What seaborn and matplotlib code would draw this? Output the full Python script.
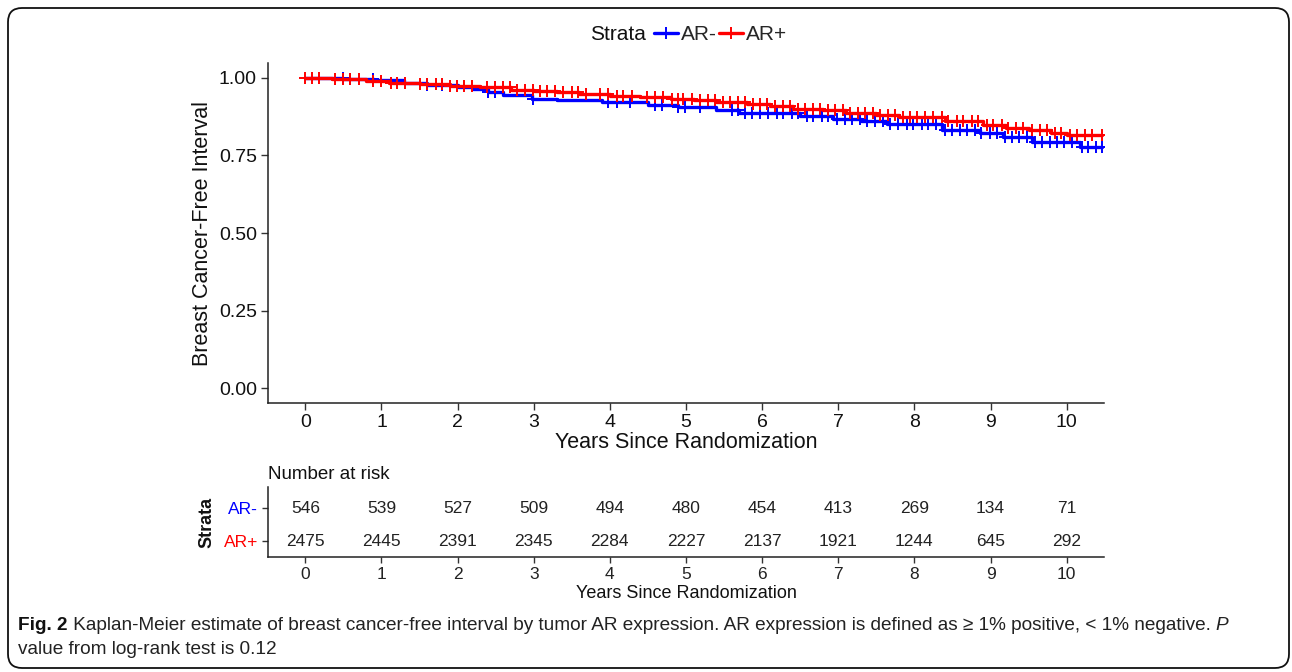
import numpy as np
import matplotlib
matplotlib.use("Agg")
import matplotlib.pyplot as plt
import seaborn as sns
from matplotlib.patches import FancyBboxPatch
from matplotlib.transforms import IdentityTransform
from matplotlib.lines import Line2D

# ---------------- data ----------------
groups = ["AR-", "AR+"]
group_colors = ["#0000FF", "#FF0000"]

arneg_time = [0, 0.5, 0.9, 1.3, 1.6, 2.0, 2.2, 2.4, 2.6, 2.98, 3.3, 3.9, 4.5, 4.9,
              5.4, 5.7, 6.5, 6.93, 7.3, 7.64, 8.36, 8.86, 9.16, 9.55, 10.17]
arneg_surv = [1.0, 0.997, 0.993, 0.982, 0.978, 0.970, 0.965, 0.955, 0.946, 0.932, 0.928,
              0.922, 0.914, 0.905, 0.898, 0.887, 0.876, 0.866, 0.860, 0.850, 0.833,
              0.823, 0.810, 0.794, 0.778]

arpos_time = [0, 0.35, 0.8, 1.1, 1.5, 1.9, 2.3, 2.7, 3.0, 3.3, 3.6, 4.0, 4.4, 4.8,
              5.1, 5.4, 5.8, 6.1, 6.4, 6.8, 7.1, 7.5, 7.8, 8.4, 8.9, 9.2, 9.5, 9.8, 10.0]
arpos_surv = [1.0, 0.995, 0.990, 0.985, 0.980, 0.975, 0.970, 0.962, 0.958, 0.953, 0.948,
              0.943, 0.938, 0.932, 0.928, 0.922, 0.916, 0.909, 0.901, 0.895, 0.887,
              0.880, 0.873, 0.860, 0.847, 0.839, 0.831, 0.822, 0.815]

arneg_censor = [0.49, 0.59, 0.89, 1.60, 1.80, 2.40, 2.49, 2.99, 3.98, 4.09, 4.27, 4.59,
                4.69, 4.90, 4.99, 5.18, 5.60, 5.68, 5.77, 5.87, 5.97, 6.08, 6.19, 6.27,
                6.39, 6.47, 6.59, 6.67, 6.78, 6.86, 6.98, 7.09, 7.18, 7.28, 7.38, 7.48,
                7.59, 7.68, 7.78, 7.90, 7.98, 8.10, 8.18, 8.29, 8.40, 8.49, 8.60, 8.69,
                8.79, 8.88, 8.99, 9.08, 9.19, 9.28, 9.38, 9.48, 9.58, 9.67, 9.78, 9.87,
                9.97, 10.07, 10.20, 10.28, 10.39, 10.47]
arpos_censor = [0.0, 0.09, 0.18, 0.39, 0.50, 0.59, 0.70, 0.89, 1.00, 1.12, 1.21, 1.31,
                1.50, 1.60, 1.71, 1.80, 1.90, 1.99, 2.09, 2.19, 2.39, 2.49, 2.60, 2.69,
                2.78, 2.89, 2.99, 3.08, 3.18, 3.28, 3.39, 3.50, 3.58, 3.69, 3.87, 3.98,
                4.09, 4.17, 4.29, 4.49, 4.59, 4.70, 4.82, 4.90, 4.96, 5.08, 5.18, 5.29,
                5.38, 5.49, 5.58, 5.68, 5.77, 5.88, 5.97, 6.07, 6.17, 6.27, 6.36, 6.47,
                6.56, 6.67, 6.76, 6.86, 6.96, 7.06, 7.15, 7.26, 7.35, 7.45, 7.55, 7.65,
                7.74, 7.85, 7.94, 8.04, 8.14, 8.24, 8.36, 8.44, 8.56, 8.64, 8.75, 8.83,
                8.95, 9.03, 9.15, 9.23, 9.34, 9.42, 9.54, 9.65, 9.74, 9.84, 9.93, 10.04,
                10.13, 10.24, 10.33, 10.46]

risk_times = [0, 1, 2, 3, 4, 5, 6, 7, 8, 9, 10]
arneg_risk = [546, 539, 527, 509, 494, 480, 454, 413, 269, 134, 71]
arpos_risk = [2475, 2445, 2391, 2345, 2284, 2227, 2137, 1921, 1244, 645, 292]

y_ticks = [0.00, 0.25, 0.50, 0.75, 1.00]
y_ticklabels = ["0.00", "0.25", "0.50", "0.75", "1.00"]

caption_bold = "Fig. 2"
caption_line1 = (" Kaplan-Meier estimate of breast cancer-free interval by tumor AR expression. "
                 "AR expression is defined as \u2265 1% positive, < 1% negative. ")
caption_italic = "P"
caption_line2 = "value from log-rank test is 0.12"

# ---------------- style ----------------
sns.set_theme(style="white")
plt.rcParams["font.family"] = ["Liberation Sans", "DejaVu Sans"]

W, H = 1292, 672
fig = plt.figure(figsize=(W / 100, H / 100), dpi=100)
fig.patch.set_facecolor("white")

def fx(px):
    return px / W

def fy(py):
    return 1 - py / H

ax = fig.add_axes([fx(268), fy(403), fx(1104) - fx(268), fy(63) - fy(403)])
axr = fig.add_axes([fx(268), fy(557), fx(1104) - fx(268), fy(487) - fy(557)])

MS, MEW = 8.5, 1.4
series = [(arneg_time, arneg_surv, arneg_censor), (arpos_time, arpos_surv, arpos_censor)]
for (t, s, c), g, col in zip(series, groups, group_colors):
    t_ext = list(t) + [max(max(c), t[-1])]
    s_ext = list(s) + [s[-1]]
    sns.lineplot(x=t_ext, y=s_ext, ax=ax, color=col, lw=2.4, drawstyle="steps-post",
                 estimator=None, sort=False)
    idx = np.searchsorted(np.array(t), np.array(c), side="right") - 1
    cy = np.array(s)[idx]
    ax.plot(c, cy, ls="", marker="+", color=col, markersize=MS, mew=MEW)

ax.set_xlim(-0.49, 10.49)
ax.set_ylim(-0.048, 1.048)
ax.set_xticks(risk_times)
ax.set_xticklabels([str(v) for v in risk_times])
ax.set_yticks(y_ticks)
ax.set_yticklabels(y_ticklabels)
for sp in ["top", "right"]:
    ax.spines[sp].set_visible(False)
for sp in ["left", "bottom"]:
    ax.spines[sp].set_color("#222222")
    ax.spines[sp].set_linewidth(1.1)
ax.tick_params(axis="both", which="both", bottom=True, left=True, length=5, width=1.0,
               color="#333333", labelsize=14, labelcolor="#111111", pad=3)
ax.set_xlabel("Years Since Randomization", fontsize=15.5, color="#111111", labelpad=1)
ax.set_ylabel("Breast Cancer-Free Interval", fontsize=15.5, color="#111111", labelpad=4)
ax.grid(False)

# legend at top
fig.text(fx(646), fy(35), "Strata", fontsize=15, ha="right", va="center", color="#111111")
handles = [Line2D([], [], color=c, lw=2.4, marker="+", markersize=MS, mew=MEW) for c in group_colors]
fig.legend(handles, groups, loc="center left", bbox_to_anchor=(fx(654), fy(35)), ncol=2,
           frameon=False, fontsize=15, handlelength=1.15, handletextpad=0.12, columnspacing=0.15,
           borderaxespad=0, borderpad=0)

# risk table
risk_rows = [(arneg_risk, 1), (arpos_risk, 0)]
for vals, ypos in risk_rows:
    for t, v in zip(risk_times, vals):
        axr.text(t, ypos, str(v), ha="center", va="center", fontsize=12.5, color="#222222")
axr.set_xlim(-0.49, 10.49)
axr.set_ylim(-0.48, 1.64)
axr.set_xticks(risk_times)
axr.set_xticklabels([str(v) for v in risk_times])
axr.set_yticks([1, 0])
axr.set_yticklabels(["AR-", "AR+"])
for lab, col in zip(axr.get_yticklabels(), group_colors):
    lab.set_color(col)
for sp in ["top", "right"]:
    axr.spines[sp].set_visible(False)
for sp in ["left", "bottom"]:
    axr.spines[sp].set_color("#222222")
    axr.spines[sp].set_linewidth(1.1)
axr.tick_params(axis="both", bottom=True, left=True, length=4, width=1.0, color="#333333",
                labelsize=12.5, pad=3)
axr.tick_params(axis="x", labelcolor="#222222")
axr.set_xlabel("Years Since Randomization", fontsize=13, color="#111111", labelpad=2)
axr.set_ylabel("Strata", fontsize=13, color="#111111", fontweight="bold", labelpad=6)
axr.set_title("Number at risk", loc="left", fontsize=13.5, color="#111111", pad=6)
axr.grid(False)

# border
border = FancyBboxPatch((8, 4), 1281, 660, boxstyle="round,pad=0,rounding_size=14",
                        transform=IdentityTransform(), fill=False, ec="#111111", lw=1.3)
fig.patches.append(border)

# caption
cap_fs = 13.7
renderer = fig.canvas.get_renderer()
t1 = fig.text(fx(18), fy(626), caption_bold, fontsize=cap_fs, fontweight="bold",
              ha="left", va="center", color="#111111")
bb = t1.get_window_extent(renderer)
t2 = fig.text(bb.x1 / W, fy(626), caption_line1, fontsize=cap_fs, ha="left", va="center",
              color="#222222")
bb2 = t2.get_window_extent(renderer)
fig.text(bb2.x1 / W, fy(626), caption_italic, fontsize=cap_fs, style="italic", ha="left",
         va="center", color="#222222")
fig.text(fx(18), fy(650), caption_line2, fontsize=cap_fs, ha="left", va="center", color="#222222")

fig.savefig("out.png", dpi=100, facecolor="white")
